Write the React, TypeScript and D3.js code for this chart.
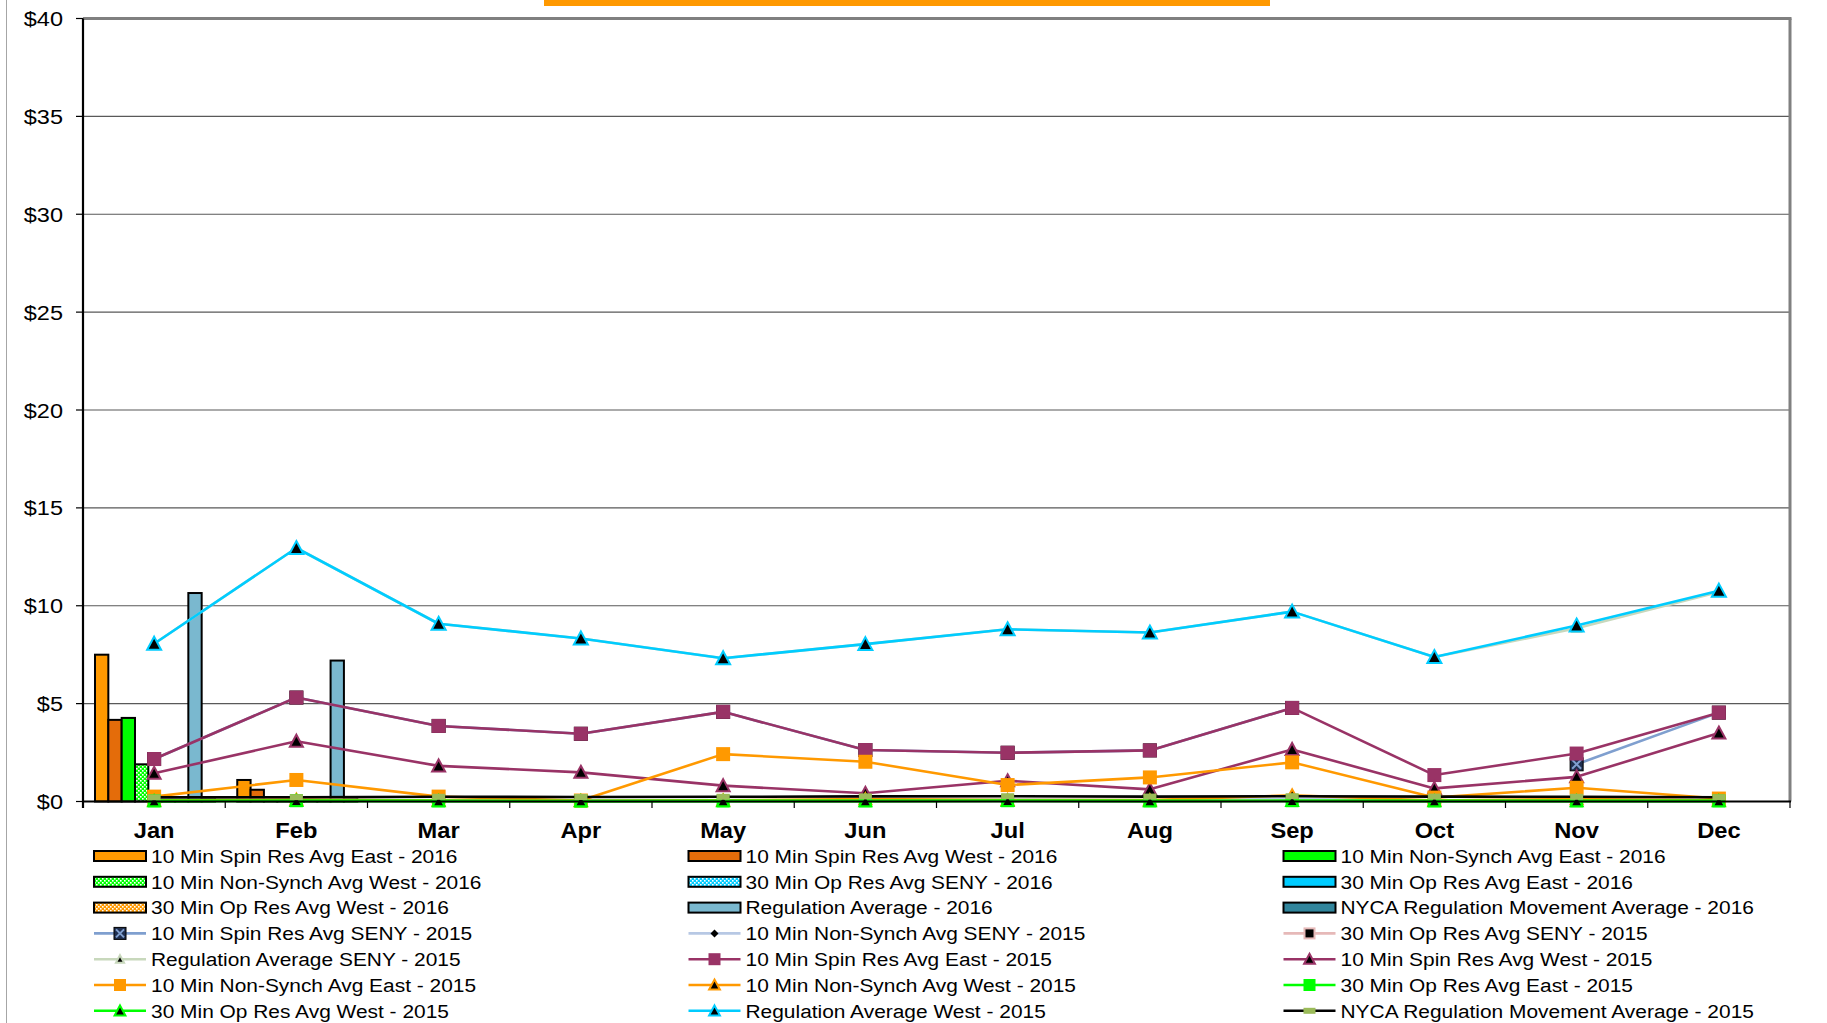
import React from 'react';
import * as d3 from 'd3';

// ---- data ----
const months = ['Jan', 'Feb', 'Mar', 'Apr', 'May', 'Jun', 'Jul', 'Aug', 'Sep', 'Oct', 'Nov', 'Dec'];
const yTickValues = [0, 5, 10, 15, 20, 25, 30, 35, 40];

// 2016 monthly averages ($/MWh) — only Jan and Feb reported so far
const spinResEast2016 = [7.5, 1.1, null, null, null, null, null, null, null, null, null, null];
const spinResWest2016 = [4.17, 0.6, null, null, null, null, null, null, null, null, null, null];
const nonSynchEast2016 = [4.27, 0.04, null, null, null, null, null, null, null, null, null, null];
const nonSynchWest2016 = [1.9, 0.03, null, null, null, null, null, null, null, null, null, null];
const opResSeny2016 = [0.05, 0.02, null, null, null, null, null, null, null, null, null, null];
const opResEast2016 = [0.04, 0.02, null, null, null, null, null, null, null, null, null, null];
const opResWest2016 = [0.06, 0.03, null, null, null, null, null, null, null, null, null, null];
const regulation2016 = [10.65, 7.2, null, null, null, null, null, null, null, null, null, null];
const nycaRegMove2016 = [0.2, 0.2, null, null, null, null, null, null, null, null, null, null];

// 2015 monthly averages ($/MWh)
const spinResSeny2015 = [2.17, 5.31, 3.86, 3.46, 4.58, 2.63, 2.49, 2.61, 4.78, null, 1.9, 4.54];
const nonSynchSeny2015 = [0.08, 0.1, 0.06, 0.04, 0.07, 0.08, 0.1, 0.08, 0.12, 0.06, 0.1, 0.08];
const opResSeny2015 = [0.05, 0.06, 0.05, 0.04, 0.05, 0.05, 0.06, 0.05, 0.06, 0.05, 0.05, 0.05];
const regulationSeny2015 = [8.06, 12.95, 9.08, 8.33, 7.32, 8.04, 8.8, 8.63, 9.7, 7.38, 8.85, 10.7];
const spinResEast2015 = [2.17, 5.31, 3.86, 3.46, 4.58, 2.63, 2.49, 2.61, 4.78, 1.35, 2.45, 4.54];
const spinResWest2015 = [1.44, 3.08, 1.82, 1.49, 0.81, 0.42, 1.06, 0.62, 2.66, 0.67, 1.26, 3.5];
const nonSynchEast2015 = [0.25, 1.1, 0.25, 0.05, 2.42, 2.03, 0.84, 1.23, 2.0, 0.2, 0.7, 0.15];
const nonSynchWest2015 = [0.06, 0.1, 0.05, 0.03, 0.06, 0.12, 0.08, 0.07, 0.32, 0.05, 0.12, 0.06];
const opResEast2015 = [0.03, 0.04, 0.03, 0.02, 0.03, 0.03, 0.04, 0.03, 0.04, 0.03, 0.03, 0.03];
const opResWest2015 = [0.02, 0.03, 0.02, 0.02, 0.02, 0.02, 0.03, 0.02, 0.03, 0.02, 0.02, 0.02];
const regulationWest2015 = [8.06, 12.95, 9.08, 8.33, 7.32, 8.04, 8.8, 8.63, 9.7, 7.38, 8.99, 10.77];
const nycaRegMove2015 = [0.21, 0.22, 0.24, 0.23, 0.24, 0.26, 0.27, 0.25, 0.27, 0.25, 0.24, 0.22];

type BarSeries = { name: string; values: (number | null)[]; fill: string };
type LineSeries = {
  name: string;
  values: (number | null)[];
  line: string;
  marker: 'square' | 'triangle' | 'xsquare' | 'diamond' | 'dash';
  mFill: string;
  mStroke: string;
  size: number;
};

const barSeries: BarSeries[] = [
  { name: '10 Min Spin Res Avg East - 2016', values: spinResEast2016, fill: '#FF9900' },
  { name: '10 Min Spin Res Avg West - 2016', values: spinResWest2016, fill: '#E46C0A' },
  { name: '10 Min Non-Synch Avg East - 2016', values: nonSynchEast2016, fill: '#00FF00' },
  { name: '10 Min Non-Synch Avg West - 2016', values: nonSynchWest2016, fill: 'url(#chkGreen)' },
  { name: '30 Min Op Res Avg SENY - 2016', values: opResSeny2016, fill: 'url(#chkCyan)' },
  { name: '30 Min Op Res Avg East - 2016', values: opResEast2016, fill: '#00CCFF' },
  { name: '30 Min Op Res Avg West - 2016', values: opResWest2016, fill: 'url(#chkOrange)' },
  { name: 'Regulation Average - 2016', values: regulation2016, fill: '#7AB8CF' },
  { name: 'NYCA Regulation Movement Average - 2016', values: nycaRegMove2016, fill: '#31859C' },
];

const lineSeries: LineSeries[] = [
  { name: '10 Min Spin Res Avg SENY - 2015', values: spinResSeny2015, line: '#7F9FCF', marker: 'xsquare', mFill: '#1F2F4F', mStroke: '#7F9FCF', size: 13 },
  { name: '10 Min Non-Synch Avg SENY - 2015', values: nonSynchSeny2015, line: '#B7C8E4', marker: 'diamond', mFill: '#000000', mStroke: '#B7C8E4', size: 8 },
  { name: '30 Min Op Res Avg SENY - 2015', values: opResSeny2015, line: '#E6B9B8', marker: 'square', mFill: '#000000', mStroke: '#E6B9B8', size: 10 },
  { name: 'Regulation Average SENY - 2015', values: regulationSeny2015, line: '#C8D8BC', marker: 'triangle', mFill: '#000000', mStroke: '#C8D8BC', size: 9 },
  { name: '10 Min Spin Res Avg East - 2015', values: spinResEast2015, line: '#993366', marker: 'square', mFill: '#993366', mStroke: '#993366', size: 14 },
  { name: '10 Min Spin Res Avg West - 2015', values: spinResWest2015, line: '#993366', marker: 'triangle', mFill: '#000000', mStroke: '#993366', size: 13 },
  { name: '10 Min Non-Synch Avg East - 2015', values: nonSynchEast2015, line: '#FF9900', marker: 'square', mFill: '#FF9900', mStroke: '#FF9900', size: 14 },
  { name: '10 Min Non-Synch Avg West - 2015', values: nonSynchWest2015, line: '#FF9900', marker: 'triangle', mFill: '#000000', mStroke: '#FF9900', size: 12 },
  { name: '30 Min Op Res Avg East - 2015', values: opResEast2015, line: '#00FF00', marker: 'square', mFill: '#00FF00', mStroke: '#00FF00', size: 13 },
  { name: '30 Min Op Res Avg West - 2015', values: opResWest2015, line: '#00FF00', marker: 'triangle', mFill: '#000000', mStroke: '#00FF00', size: 12 },
  { name: 'Regulation Average West - 2015', values: regulationWest2015, line: '#00CCFF', marker: 'triangle', mFill: '#000000', mStroke: '#00CCFF', size: 14 },
  { name: 'NYCA Regulation Movement Average - 2015', values: nycaRegMove2015, line: '#000000', marker: 'dash', mFill: '#9BBB59', mStroke: '#9BBB59', size: 13 },
];

// ---- layout ----
const W = 1827;
const H = 1023;
const PLOT = { left: 83, right: 1790, top: 18.5, bottom: 801.5 };
const FONT = '"Liberation Sans", Arial, Helvetica, sans-serif';

const x = d3.scaleBand<string>().domain(months).range([PLOT.left, PLOT.right]).padding(0);
const bw = x.bandwidth();
const xBar = d3.scaleBand<string>().domain(barSeries.map((s) => s.name)).range([12, 132]).padding(0);
const y = d3.scaleLinear().domain([0, 40]).range([PLOT.bottom, PLOT.top]);
const cx = (i: number) => (x(months[i]) as number) + bw / 2;

function Marker({ kind, px, py, size, fill, stroke }: { kind: LineSeries['marker']; px: number; py: number; size: number; fill: string; stroke: string }) {
  const h = size / 2;
  if (kind === 'square') {
    return <rect x={px - h} y={py - h} width={size} height={size} fill={fill} stroke={stroke} strokeWidth={fill === stroke ? 0 : 2} />;
  }
  if (kind === 'xsquare') {
    return (
      <g>
        <rect x={px - h} y={py - h} width={size} height={size} fill={fill} stroke="#000" strokeWidth={1} />
        <path d={`M${px - h + 2},${py - h + 2}L${px + h - 2},${py + h - 2}M${px + h - 2},${py - h + 2}L${px - h + 2},${py + h - 2}`} stroke={stroke} strokeWidth={2} />
      </g>
    );
  }
  if (kind === 'triangle') {
    return <path d={`M${px},${py - h}L${px + h},${py + h * 0.85}L${px - h},${py + h * 0.85}Z`} fill={fill} stroke={stroke} strokeWidth={2} strokeLinejoin="miter" />;
  }
  if (kind === 'diamond') {
    return <path d={`M${px},${py - h}L${px + h},${py}L${px},${py + h}L${px - h},${py}Z`} fill={fill} />;
  }
  return <rect x={px - h} y={py - 3} width={size} height={6} fill={fill} />;
}

function StretchText({ tx, ty, anchor, size, weight, stretch, children }: { tx: number; ty: number; anchor: string; size: number; weight?: string; stretch: number; children: React.ReactNode }) {
  return (
    <text
      transform={`translate(${tx},${ty}) scale(${stretch},1)`}
      textAnchor={anchor}
      fontFamily={FONT}
      fontSize={size}
      fontWeight={weight || 'normal'}
      fill="#000"
    >
      {children}
    </text>
  );
}

function Pattern({ id, color }: { id: string; color: string }) {
  return (
    <pattern id={id} width={4} height={4} patternUnits="userSpaceOnUse">
      <rect width={4} height={4} fill={color} />
      <rect x={0} y={0} width={1.6} height={1.6} fill="#fff" />
      <rect x={2} y={2} width={1.6} height={1.6} fill="#fff" />
    </pattern>
  );
}

export default function App() {
  const lineGen = d3
    .line<number | null>()
    .defined((d) => d != null)
    .x((_, i) => cx(i))
    .y((d) => y(d as number));

  const legendItems = [
    ...barSeries.map((s) => ({ type: 'bar' as const, s })),
    ...lineSeries.map((s) => ({ type: 'line' as const, s })),
  ];
  const colX = [94, 688.5, 1283.5];
  const rowY0 = 856;
  const rowStep = 25.8;

  return (
    <svg width={W} height={H} style={{ position: 'absolute', left: 0, top: 0, background: '#fff' }}>
      <defs>
        <Pattern id="chkGreen" color="#00FF00" />
        <Pattern id="chkCyan" color="#00CCFF" />
        <Pattern id="chkOrange" color="#FF9900" />
      </defs>
      <rect width={W} height={H} fill="#fff" />
      {/* page edge and title band */}
      <line x1={6.5} x2={6.5} y1={0} y2={H} stroke="#a6a6a6" strokeWidth={1} />
      <rect x={544} y={0} width={726} height={6} fill="#FF9900" />

      {/* gridlines */}
      {yTickValues
        .filter((t) => t > 0 && t < 40)
        .map((t) => (
          <line key={t} x1={PLOT.left} x2={PLOT.right} y1={y(t)} y2={y(t)} stroke="#595959" strokeWidth={1.2} />
        ))}
      {/* plot frame: top and right */}
      <line x1={PLOT.left} x2={PLOT.right + 1.5} y1={y(40)} y2={y(40)} stroke="#808080" strokeWidth={3} />
      <line x1={PLOT.right} x2={PLOT.right} y1={y(40)} y2={PLOT.bottom} stroke="#808080" strokeWidth={3} />

      {/* y axis */}
      {yTickValues.map((t) => (
        <g key={t}>
          <line x1={76} x2={PLOT.left} y1={y(t)} y2={y(t)} stroke="#000" strokeWidth={1.2} />
          <StretchText tx={63} ty={y(t) + 7.5} anchor="end" size={21} stretch={1.12}>
            {`$${t}`}
          </StretchText>
        </g>
      ))}

      {/* bars (2016) */}
      {barSeries.map((s) =>
        s.values.map((v, i) =>
          v == null ? null : (
            <rect
              key={s.name + i}
              x={(x(months[i]) as number) + (xBar(s.name) as number)}
              y={y(v)}
              width={xBar.bandwidth()}
              height={PLOT.bottom - y(v)}
              fill={s.fill}
              stroke="#000"
              strokeWidth={2}
            />
          )
        )
      )}

      {/* lines (2015) */}
      {lineSeries.map((s) => (
        <g key={s.name}>
          <path d={lineGen(s.values) || ''} fill="none" stroke={s.line} strokeWidth={2.6} strokeLinejoin="round" />
          {s.values.map((v, i) =>
            v == null ? null : (
              <Marker key={i} kind={s.marker} px={cx(i)} py={y(v)} size={s.size} fill={s.mFill} stroke={s.mStroke} />
            )
          )}
        </g>
      ))}

      {/* x axis */}
      <line x1={PLOT.left} x2={PLOT.right + 1} y1={PLOT.bottom} y2={PLOT.bottom} stroke="#000" strokeWidth={2} />
      <line x1={PLOT.left} x2={PLOT.left} y1={y(40)} y2={PLOT.bottom + 6.5} stroke="#000" strokeWidth={2.2} />
      {d3.range(months.length + 1).map((i) => (
        <line key={i} x1={PLOT.left + i * bw} x2={PLOT.left + i * bw} y1={PLOT.bottom} y2={PLOT.bottom + 6.5} stroke="#000" strokeWidth={1.2} />
      ))}
      {months.map((m, i) => (
        <StretchText key={m} tx={cx(i)} ty={838} anchor="middle" size={21.5} weight="bold" stretch={1.1}>
          {m}
        </StretchText>
      ))}

      {/* legend */}
      {legendItems.map((item, k) => {
        const col = k % 3;
        const row = Math.floor(k / 3);
        const lx = colX[col];
        const ly = rowY0 + row * rowStep;
        return (
          <g key={item.s.name}>
            {item.type === 'bar' ? (
              <rect x={lx} y={ly - 5} width={52} height={10} fill={(item.s as BarSeries).fill} stroke="#000" strokeWidth={2} />
            ) : (
              <g>
                <line x1={lx} x2={lx + 52} y1={ly} y2={ly} stroke={(item.s as LineSeries).line} strokeWidth={2.6} />
                <Marker
                  kind={(item.s as LineSeries).marker}
                  px={lx + 26}
                  py={ly}
                  size={(item.s as LineSeries).marker === 'dash' ? 12 : Math.min((item.s as LineSeries).size, 12) * ((item.s as LineSeries).marker === 'triangle' ? 0.9 : 1)}
                  fill={(item.s as LineSeries).mFill}
                  stroke={(item.s as LineSeries).mStroke}
                />
              </g>
            )}
            <StretchText tx={lx + 57} ty={ly + 6.8} anchor="start" size={18.6} stretch={1.125}>
              {item.s.name}
            </StretchText>
          </g>
        );
      })}
    </svg>
  );
}
